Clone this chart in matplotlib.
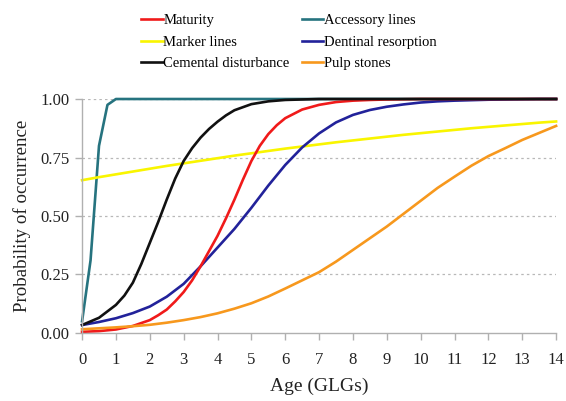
import matplotlib
matplotlib.use("Agg")
import matplotlib.pyplot as plt
import numpy as np

plt.rcParams['font.family'] = ['Liberation Serif', 'DejaVu Serif']

# age in growth layer groups, half-step grid
age = np.arange(0, 14.01, 0.5)

# steep curves get a finer grid where they rise
mat_age = [0, 0.5, 1, 1.5, 2, 2.25, 2.5, 2.75, 3, 3.25, 3.5, 3.75, 4, 4.25, 4.5,
           4.75, 5, 5.25, 5.5, 5.75, 6, 6.5, 7, 7.5, 8, 8.5, 9, 10, 14]
maturity = [0.005, 0.008, 0.015, 0.03, 0.055, 0.076, 0.10, 0.135, 0.175, 0.225,
            0.285, 0.35, 0.415, 0.49, 0.57, 0.655, 0.735, 0.80, 0.85, 0.888,
            0.918, 0.955, 0.975, 0.987, 0.993, 0.996, 0.998, 1.0, 1.0]

cem_age = [0, 0.5, 1, 1.25, 1.5, 1.75, 2, 2.25, 2.5, 2.75, 3, 3.25, 3.5, 3.75,
           4, 4.25, 4.5, 5, 5.5, 6, 6.5, 7, 14]
cemental = [0.034, 0.065, 0.12, 0.16, 0.215, 0.295, 0.385, 0.475, 0.57, 0.66,
            0.735, 0.79, 0.835, 0.872, 0.903, 0.93, 0.952, 0.978, 0.99, 0.996,
            0.998, 1.0, 1.0]

marker_lines = [0.653, 0.666, 0.678, 0.690, 0.702, 0.714, 0.725, 0.736, 0.747, 0.758,
                0.768, 0.778, 0.788, 0.797, 0.806, 0.815, 0.823, 0.831, 0.839, 0.847,
                0.854, 0.861, 0.868, 0.875, 0.881, 0.887, 0.893, 0.899, 0.904]
dentinal = [0.034, 0.047, 0.063, 0.085, 0.113, 0.155, 0.21, 0.285, 0.365, 0.445,
            0.535, 0.63, 0.718, 0.793, 0.853, 0.90, 0.932, 0.953, 0.967, 0.977,
            0.985, 0.99, 0.993, 0.995, 0.997, 0.998, 0.999, 1.0, 1.0]
pulp = [0.016, 0.02, 0.024, 0.029, 0.035, 0.044, 0.055, 0.068, 0.084, 0.104,
        0.127, 0.156, 0.19, 0.225, 0.26, 0.305, 0.355, 0.405, 0.455, 0.51,
        0.565, 0.62, 0.668, 0.715, 0.756, 0.79, 0.825, 0.855, 0.885]

# accessory lines saturate almost at once
acc_age = [0, 0.25, 0.5, 0.75, 1.0, 2, 4, 6, 8, 10, 12, 14]
accessory = [0.05, 0.31, 0.80, 0.975, 1.0, 1.0, 1.0, 1.0, 1.0, 1.0, 1.0, 1.0]

fig = plt.figure(figsize=(5.66, 4.01), dpi=100)
ax = fig.add_axes([0.145, 0.1696, 0.8375, 0.5835])

lw = 1.9
h_acc, = ax.plot(acc_age, accessory, color='#26737f', lw=lw, clip_on=False, label='Accessory lines')
h_mark, = ax.plot(age, marker_lines, color='#f9f500', lw=lw, clip_on=False, label='Marker lines')
h_dent, = ax.plot(age, dentinal, color='#22229a', lw=lw, clip_on=False, label='Dentinal resorption')
h_mat, = ax.plot(mat_age, maturity, color='#f01a1a', lw=lw, clip_on=False, label='Maturity')
h_cem, = ax.plot(cem_age, cemental, color='#111111', lw=lw, clip_on=False, label='Cemental disturbance')
h_pulp, = ax.plot(age, pulp, color='#f7981d', lw=lw, clip_on=False, label='Pulp stones')

ax.set_xlim(0, 14)
ax.set_ylim(0, 1)
ax.set_xticks(range(0, 15))
ax.set_yticks([0, 0.25, 0.5, 0.75, 1.0])
ax.set_yticklabels(['0.00', '0.25', '0.50', '0.75', '1.00'])

for y in [0.25, 0.5, 0.75, 1.0]:
    ax.axhline(y, color='#b8b8b8', lw=0.9, ls=(0, (2, 2.5)), zorder=0)

for side in ['top', 'right']:
    ax.spines[side].set_visible(False)
for side in ['left', 'bottom']:
    ax.spines[side].set_color('#b0b0b0')
    ax.spines[side].set_linewidth(1.0)
ax.tick_params(axis='both', colors='#b0b0b0', labelcolor='#222222', labelsize=12,
               length=5, width=1.0, direction='out')
ax.tick_params(axis='x', pad=9)
ax.tick_params(axis='y', pad=4)

ax.set_xlabel('Age (GLGs)', fontsize=14, color='#222222', labelpad=7)
ax.set_ylabel('Probability of occurrence', fontsize=13.6, color='#222222', labelpad=7)

handles = [h_mat, h_mark, h_cem, h_acc, h_dent, h_pulp]
fig.legend(handles=handles, labels=[h.get_label() for h in handles],
           ncol=2, frameon=False, fontsize=10.5, loc='upper left',
           bbox_to_anchor=(0.233, 0.988), handlelength=1.45, handletextpad=0.05,
           columnspacing=0.85, labelspacing=0.56, borderaxespad=0.25)

fig.savefig('out.png', dpi=100)
